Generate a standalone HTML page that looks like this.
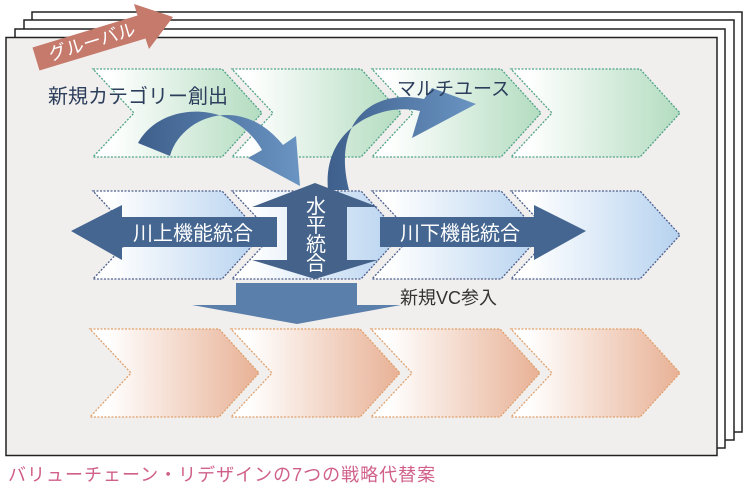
<!DOCTYPE html>
<html><head><meta charset="utf-8">
<style>
html,body{margin:0;padding:0;background:#fff;width:748px;height:489px;overflow:hidden}
svg{display:block}
text{font-family:"Liberation Sans","Noto Sans CJK JP",sans-serif}
</style></head><body>
<svg width="748" height="489" viewBox="0 0 748 489" xmlns="http://www.w3.org/2000/svg">
<defs>
<linearGradient id="g" x1="0" x2="1" y1="0" y2="0"><stop offset="0.1" stop-color="#fff"/><stop offset="1" stop-color="#b3dcc0"/></linearGradient>
<linearGradient id="b" x1="0" x2="1" y1="0" y2="0"><stop offset="0.1" stop-color="#fff"/><stop offset="1" stop-color="#b6d2ef"/></linearGradient>
<linearGradient id="o" x1="0" x2="1" y1="0" y2="0"><stop offset="0.1" stop-color="#fff"/><stop offset="1" stop-color="#e8b195"/></linearGradient>
<linearGradient id="ca" x1="0" x2="1" y1="0" y2="0"><stop offset="0" stop-color="#3e5f8c"/><stop offset="1" stop-color="#6a94c2"/></linearGradient>
<g id="chev"><polygon points="0,0 129,0 169,44 129,88 0,88 41,44"/></g>
</defs>
<!-- sheets -->
<rect x="32" y="12" width="710" height="420" fill="#fff" stroke="#222" stroke-width="1.5"/>
<rect x="24" y="20" width="710" height="420" fill="#fff" stroke="#222" stroke-width="1.5"/>
<rect x="15" y="29" width="710" height="419" fill="#fff" stroke="#222" stroke-width="1.5"/>
<rect x="6" y="37.5" width="711" height="418" fill="#f1efed" stroke="#222" stroke-width="1.5"/>
<!-- global arrow -->
<polygon points="32.5,47.5 137.5,15.5 134,4 173,17 149,49 145.5,38.5 39.5,70.5" fill="#c57a6c"/>
<text x="92" y="48" font-size="18" fill="#fff" text-anchor="middle" transform="rotate(-17 92 42)">グルーバル</text>
<!-- green row -->
<g fill="url(#g)" stroke="#4fa38a" stroke-width="1.3" stroke-dasharray="2,1.5">
<use href="#chev" x="93" y="69"/><use href="#chev" x="232" y="69"/><use href="#chev" x="372" y="69"/><use href="#chev" x="511" y="69"/>
</g>
<!-- blue row -->
<g fill="url(#b)" stroke="#4d5f8f" stroke-width="1.3" stroke-dasharray="2,1.5">
<use href="#chev" x="93" y="191"/><use href="#chev" x="232" y="191"/><use href="#chev" x="372" y="191"/><use href="#chev" x="511" y="191"/>
</g>
<!-- orange row -->
<g fill="url(#o)" stroke="#e0a06c" stroke-width="1.3" stroke-dasharray="2,1.5">
<use href="#chev" x="90" y="329"/><use href="#chev" x="231" y="329"/><use href="#chev" x="371" y="329"/><use href="#chev" x="511" y="329"/>
</g>
<!-- curved arrows -->
<path d="M138,143 C160,102 232,98 262,150 L248,158 L300,186 L296,136 L283,145 C240,92 180,118 170,156 Z" fill="url(#ca)"/>
<path d="M328,190 C322,128 380,102 420,111 L412,138 L476,104 L432,88 L424,99 C370,88 332,124 349,190 Z" fill="url(#ca)"/>
<!-- left arrow -->
<polygon points="71,231 122,205 122,217 277,217 277,247 122,247 122,260" fill="#456690"/>
<text x="193" y="240" font-size="20" fill="#fff" text-anchor="middle">川上機能統合</text>
<!-- right arrow -->
<polygon points="380,217 534,217 534,205 586,231 534,260 534,247 380,247" fill="#456690"/>
<text x="460" y="240" font-size="20" fill="#fff" text-anchor="middle">川下機能統合</text>
<!-- center -->
<polygon points="252,207 315,183 378,207 347,207 347,260 378,260 315,279 252,260 287,260 287,207" fill="#44628a"/>
<g font-size="20" fill="#fff" text-anchor="middle">
<text x="316" y="213">水</text><text x="316" y="232">平</text><text x="316" y="251">統</text><text x="316" y="270">合</text>
</g>
<!-- down arrow -->
<polygon points="236,283 357,283 357,305 401,305 297,324 192,305 236,305" fill="#5a7fab"/>
<text x="400" y="304" font-size="18" fill="#333">新規VC参入</text>
<text x="48" y="103" font-size="20" fill="#2c3e5c">新規カテゴリー創出</text>
<text x="397" y="95" font-size="19" fill="#2c3e5c">マルチユース</text>
<text x="8" y="481" font-size="18" fill="#d0608a" letter-spacing="1">バリューチェーン・リデザインの7つの戦略代替案</text>
</svg>
</body></html>
